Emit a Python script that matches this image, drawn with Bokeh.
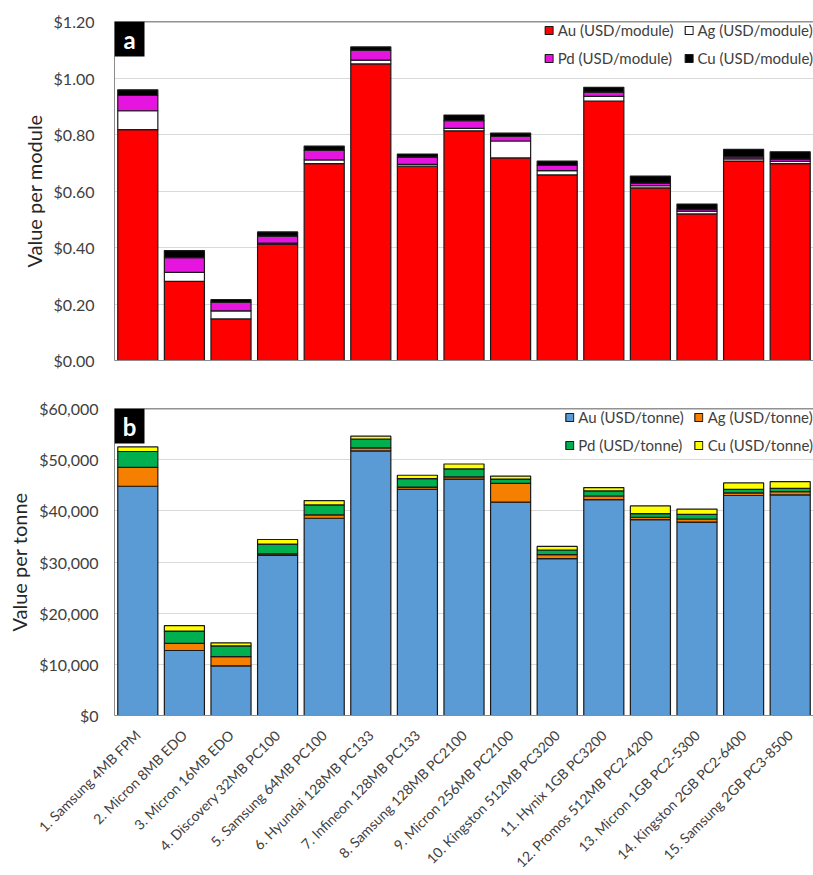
import math
from bokeh.plotting import figure
from bokeh.models import (ColumnDataSource, Range1d, FixedTicker, NumeralTickFormatter,
                          Legend, LegendItem, Span, BoxAnnotation, Label)
from bokeh.layouts import column
from bokeh.embed import file_html
from bokeh.resources import INLINE

modules = ["1. Samsung 4MB FPM", "2. Micron 8MB EDO", "3. Micron 16MB EDO",
           "4. Discovery 32MB PC100", "5. Samsung 64MB PC100", "6. Hyundai 128MB PC133",
           "7. Infineon 128MB PC133", "8. Samsung 128MB PC2100", "9. Micron 256MB PC2100",
           "10. Kingston 512MB PC3200", "11. Hynix 1GB PC3200", "12. Promos 512MB PC2-4200",
           "13. Micron 1GB PC2-5300", "14. Kingston 2GB PC2-6400", "15. Samsung 2GB PC3-8500"]

# Panel a: USD per module
au_mod = [0.817, 0.280, 0.147, 0.412, 0.697, 1.050, 0.688, 0.813, 0.717, 0.657, 0.918, 0.611, 0.519, 0.706, 0.697]
ag_mod = [0.067, 0.032, 0.029, 0.004, 0.013, 0.013, 0.006, 0.009, 0.060, 0.015, 0.017, 0.008, 0.010, 0.008, 0.008]
pd_mod = [0.054, 0.052, 0.030, 0.024, 0.034, 0.035, 0.026, 0.027, 0.016, 0.019, 0.015, 0.009, 0.006, 0.007, 0.008]
cu_mod = [0.020, 0.025, 0.010, 0.015, 0.015, 0.012, 0.011, 0.020, 0.012, 0.015, 0.017, 0.025, 0.019, 0.026, 0.026]

# Panel b: USD per tonne
au_t = [44800, 12700, 9700, 31300, 38550, 51700, 44200, 46200, 41700, 30650, 42200, 38300, 37800, 43000, 43100]
ag_t = [3700, 1400, 1800, 300, 650, 600, 450, 450, 3650, 800, 700, 450, 600, 500, 650]
pd_t = [3100, 2400, 2100, 1900, 1950, 1700, 1650, 1550, 850, 900, 1000, 700, 900, 700, 650]
cu_t = [900, 1050, 600, 900, 850, 600, 650, 950, 600, 700, 650, 1500, 1050, 1250, 1300]

mod_ticks = [0, 0.2, 0.4, 0.6, 0.8, 1.0, 1.2]
tonne_ticks = [0, 10000, 20000, 30000, 40000, 50000, 60000]

labels_mod = ["Au (USD/module)", "Ag (USD/module)", "Pd (USD/module)", "Cu (USD/module)"]
labels_t = ["Au (USD/tonne)", "Ag (USD/tonne)", "Pd (USD/tonne)", "Cu (USD/tonne)"]
colors_mod = ["#ff0000", "#ffffff", "#e614df", "#000000"]
colors_t = ["#5b9bd5", "#f58000", "#00b050", "#ffff00"]

FONT = "Lato"
TXT = "#404040"
LEFT = 114
WIDTH = 813
x_pos = list(range(1, len(modules) + 1))


def make_panel(height, top_border, bottom_border, yticks, yfmt, ylabel, keys, vals, labels,
               colors, letter, show_x, ystandoff):
    ymax = yticks[-1]
    p = figure(width=WIDTH, height=height, x_range=Range1d(0.5, len(modules) + 0.5),
               y_range=Range1d(0, ymax), output_backend="svg", toolbar_location=None,
               min_border_left=LEFT, min_border_right=0, min_border_top=top_border,
               min_border_bottom=bottom_border)
    p.outline_line_color = None
    src = ColumnDataSource(dict(x=x_pos, **{k: v for k, v in zip(keys, vals)}))
    rs = p.vbar_stack(keys, x="x", width=0.86, source=src, fill_color=colors,
                      line_color="#1a1a1a", line_width=1.2)
    p.xgrid.visible = False
    p.ygrid.grid_line_color = "#d9d9d9"
    p.ygrid.grid_line_width = 1
    p.yaxis.ticker = FixedTicker(ticks=yticks)
    p.ygrid.ticker = FixedTicker(ticks=yticks)
    p.yaxis.formatter = NumeralTickFormatter(format=yfmt)
    p.yaxis.axis_label = ylabel
    p.yaxis.axis_label_text_font = FONT
    p.yaxis.axis_label_text_font_size = "20px"
    p.yaxis.axis_label_text_font_style = "normal"
    p.yaxis.axis_label_text_color = "#262626"
    p.yaxis.axis_label_standoff = 5
    p.yaxis.major_label_text_font = FONT
    p.yaxis.major_label_text_font_size = "16px"
    p.yaxis.major_label_text_color = TXT
    p.yaxis.major_label_standoff = ystandoff
    p.yaxis.major_tick_line_color = None
    p.yaxis.minor_tick_line_color = None
    p.yaxis.axis_line_color = "#8c8c8c"
    p.xaxis.major_tick_line_color = None
    p.xaxis.minor_tick_line_color = None
    p.xaxis.axis_line_color = "#8c8c8c"
    p.xaxis.axis_line_width = 1.2
    if show_x:
        p.xaxis.ticker = FixedTicker(ticks=x_pos)
        p.xaxis.major_label_overrides = {x: m for x, m in zip(x_pos, modules)}
        p.xaxis.major_label_orientation = math.pi / 4
        p.xaxis.major_label_text_font = FONT
        p.xaxis.major_label_text_font_size = "14px"
        p.xaxis.major_label_text_color = TXT
        p.xaxis.major_label_standoff = 11
    else:
        p.xaxis.ticker = FixedTicker(ticks=[])
        p.xaxis.major_label_standoff = 0
    p.add_layout(Span(location=ymax, dimension="width", line_color="#262626", line_width=1.5))

    legend = Legend(items=[LegendItem(label=l, renderers=[r]) for l, r in zip(labels, rs)],
                    location="top_right", orientation="horizontal", nrows=2)
    legend.label_text_font = FONT
    legend.label_text_font_size = "15px"
    legend.label_text_color = TXT
    legend.glyph_width = 10
    legend.glyph_height = 10
    legend.label_standoff = 4
    legend.label_height = 18
    legend.spacing = 10
    legend.padding = 3
    legend.margin = 0
    legend.border_line_color = None
    legend.background_fill_alpha = 0
    p.add_layout(legend)

    # panel letter box
    ppx = (WIDTH - LEFT) / len(modules)
    box_w = 30 / ppx
    frame_h = height - top_border - bottom_border
    box_h = 35 / frame_h * ymax
    p.add_layout(BoxAnnotation(left=0.5, right=0.5 + box_w, top=ymax, bottom=ymax - box_h,
                               fill_color="black", fill_alpha=1, line_color=None))
    p.add_layout(Label(x=0.5 + box_w / 2, y=ymax - box_h / 2, text=letter, text_color="white",
                       text_font=FONT, text_font_style="bold", text_font_size="24px",
                       text_align="center", text_baseline="middle"))
    return p


pa = make_panel(378, 21, 18, mod_ticks, "$0.00", "Value per module",
                ["Au", "Ag", "Pd", "Cu"], [au_mod, ag_mod, pd_mod, cu_mod],
                labels_mod, colors_mod, "a", False, 14)
pb = make_panel(527, 30, 190, tonne_ticks, "$0,0", "Value per tonne",
                ["Au", "Ag", "Pd", "Cu"], [au_t, ag_t, pd_t, cu_t],
                labels_t, colors_t, "b", True, 10)

layout = column(pa, pb, width=WIDTH, height=875, sizing_mode="fixed",
                styles={"overflow": "hidden"})
open("out.html", "w").write(file_html(layout, INLINE))
